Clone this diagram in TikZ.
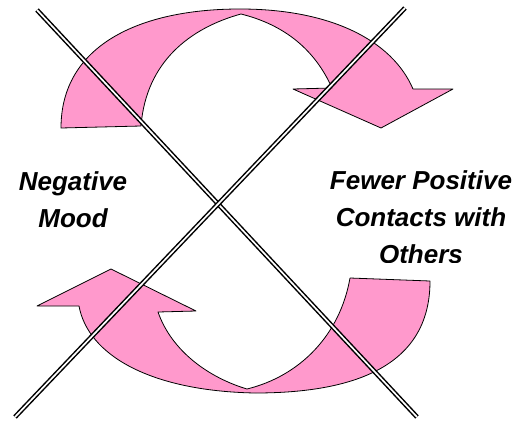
\documentclass[tikz,border=0pt]{standalone}
\usepackage{fontspec}
\setmainfont{Liberation Sans}
\usepackage{xcolor}
\definecolor{arrowpink}{RGB}{255,153,204}

\begin{document}
\begin{tikzpicture}[x=1pt,y=-1pt,line join=round]
\useasboundingbox (0,0) rectangle (518,420);
% upper curved arrow
\draw[black,fill=arrowpink,thick] (61,128) .. controls (61,45) and (140,9) .. (240,9)
  .. controls (330,9) and (392,40) .. (413,89) -- (453,89) -- (381,128) -- (293,89) -- (332,88)
  .. controls (315,50) and (285,25) .. (241,14)
  .. controls (190,28) and (146,62) .. (141,126) -- cycle;
% lower curved arrow
\draw[black,fill=arrowpink,thick] (350,278) -- (430,281)
  .. controls (430,360) and (365,393) .. (255,393)
  .. controls (150,391) and (88,355) .. (79,306) -- (37,306) -- (111,269) -- (196,311) -- (158,312)
  .. controls (172,352) and (210,378) .. (247,389)
  .. controls (300,376) and (340,335) .. (350,278);
% labels
\node[font=\fontsize{26}{37}\selectfont\bfseries\itshape,align=center] (mood) at (73,200) {Negative\\Mood};
\begin{scope}
\clip (300,150) rectangle (518,262);
\node[font=\fontsize{26}{37}\selectfont\bfseries\itshape,align=center,anchor=north] (contacts) at (421,167) {Fewer Positive\\Contacts with\\Others};
\end{scope}
% crossing double lines
\draw[double=white,double distance=1.7pt,line width=1.5pt] (37,10) -- (417,417);
\draw[double=white,double distance=1.7pt,line width=1.5pt] (405,8) -- (15,417);
\end{tikzpicture}
\end{document}
